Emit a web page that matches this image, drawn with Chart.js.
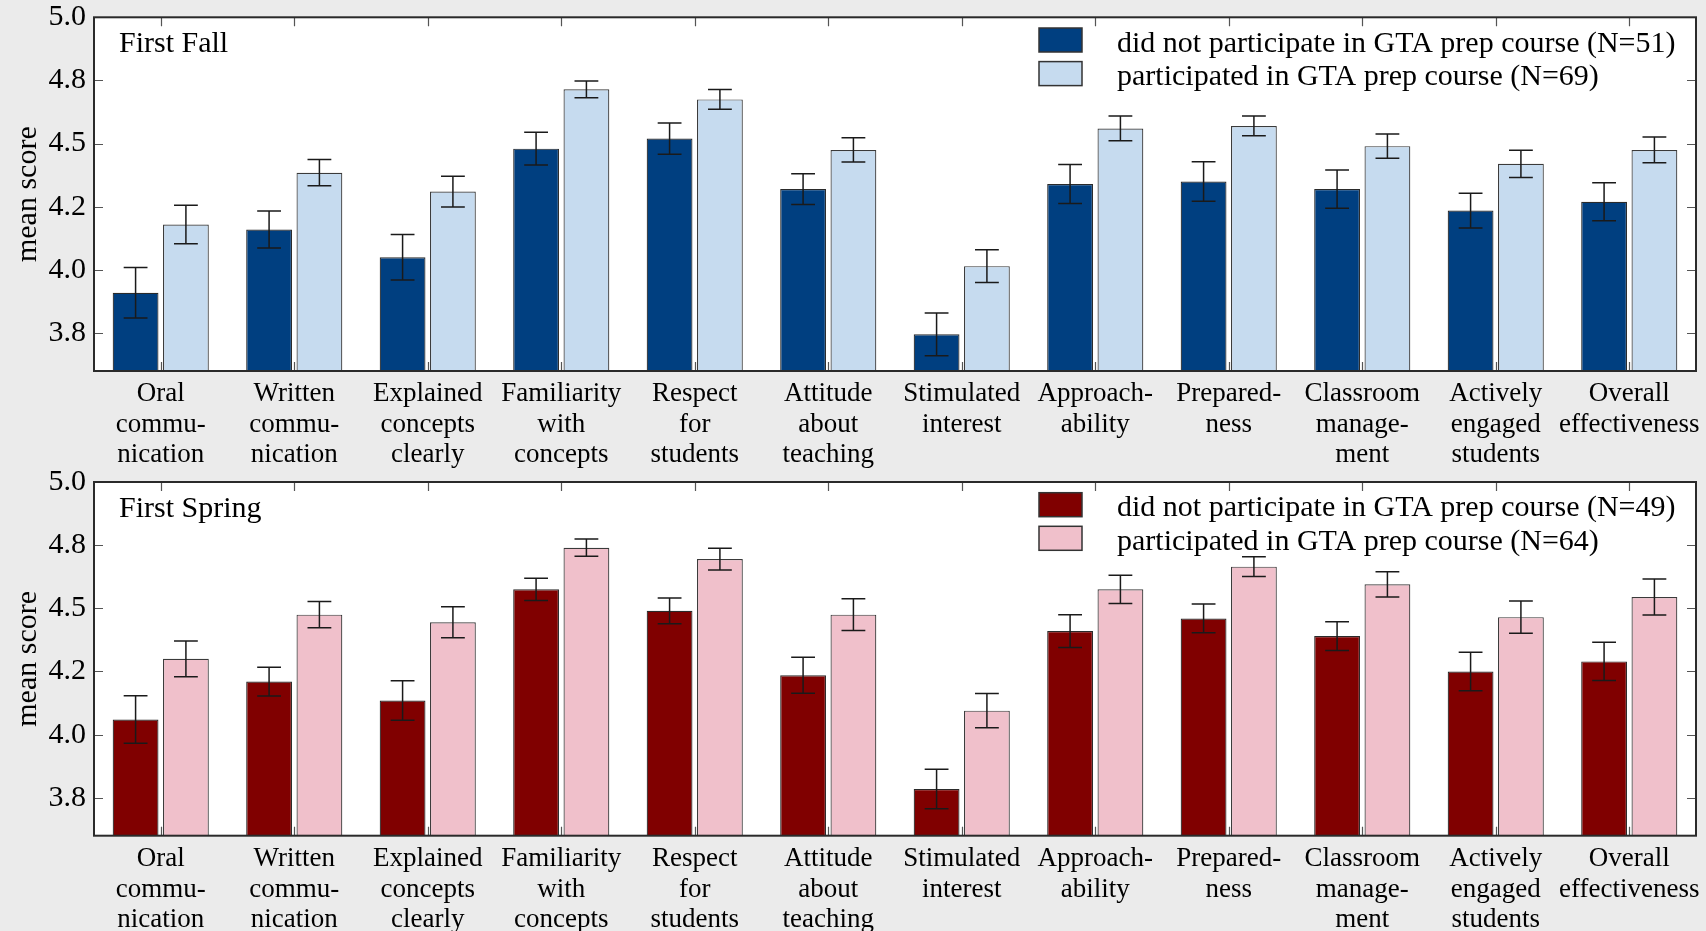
<!DOCTYPE html>
<html>
<head>
<meta charset="utf-8">
<title>Mean evaluation scores by GTA prep course participation</title>
<script src="https://cdn.jsdelivr.net/npm/chart.js@4.4.1/dist/chart.umd.min.js"></script>
<style>
  html, body { margin: 0; padding: 0; width: 1706px; height: 931px; overflow: hidden; background: #ebebeb; }
  canvas { position: absolute; left: 0; }
  #fall { top: 0; }
  #spring { top: 470px; }
</style>
</head>
<body>
<canvas id="fall" width="1706" height="475"></canvas>
<canvas id="spring" width="1706" height="520"></canvas>
<script>
// Evaluation categories (multi-line axis labels)
const categories = [
  ['Oral', 'commu-', 'nication'],
  ['Written', 'commu-', 'nication'],
  ['Explained', 'concepts', 'clearly'],
  ['Familiarity', 'with', 'concepts'],
  ['Respect', 'for', 'students'],
  ['Attitude', 'about', 'teaching'],
  ['Stimulated', 'interest'],
  ['Approach-', 'ability'],
  ['Prepared-', 'ness'],
  ['Classroom', 'manage-', 'ment'],
  ['Actively', 'engaged', 'students'],
  ['Overall', 'effectiveness']
];

// y-axis ticks and their printed labels
const yTickValues = [3.75, 4.0, 4.25, 4.5, 4.75, 5.0];
const yTickLabels = ['3.8', '4.0', '4.2', '4.5', '4.8', '5.0'];

// First Fall
const fallNoPrep    = [3.91, 4.16, 4.05, 4.48, 4.52, 4.32, 3.745, 4.34, 4.35, 4.32, 4.235, 4.27];
const fallNoPrepErr = [0.100, 0.073, 0.090, 0.065, 0.062, 0.061, 0.085, 0.077, 0.078, 0.076, 0.069, 0.075];
const fallPrep      = [4.18, 4.385, 4.31, 4.715, 4.675, 4.475, 4.015, 4.56, 4.57, 4.49, 4.42, 4.475];
const fallPrepErr   = [0.076, 0.052, 0.061, 0.033, 0.039, 0.048, 0.065, 0.049, 0.039, 0.048, 0.054, 0.051];

// First Spring
const springNoPrep    = [4.06, 4.21, 4.135, 4.575, 4.49, 4.235, 3.785, 4.41, 4.46, 4.39, 4.25, 4.29];
const springNoPrepErr = [0.094, 0.057, 0.078, 0.044, 0.051, 0.071, 0.078, 0.065, 0.057, 0.057, 0.076, 0.076];
const springPrep      = [4.30, 4.475, 4.445, 4.74, 4.695, 4.475, 4.095, 4.575, 4.665, 4.595, 4.465, 4.545];
const springPrepErr   = [0.071, 0.052, 0.061, 0.034, 0.043, 0.063, 0.068, 0.056, 0.039, 0.050, 0.064, 0.071];

const SERIF = "'Liberation Serif', 'Times New Roman', serif";
const PLOT_HEIGHT = 353.7;
Chart.defaults.font.family = SERIF;

// Draws the boxed plot frame, inward tick marks, error bars, panel label and legend.
const panelDecor = {
  id: 'panelDecor',
  beforeDraw(chart) {
    const {ctx, chartArea: a} = chart;
    ctx.save();
    ctx.fillStyle = '#ffffff';
    ctx.fillRect(a.left, a.top, a.right - a.left, a.bottom - a.top);
    ctx.restore();
  },
  beforeDatasetsDraw(chart) {
    const {ctx, chartArea: a, scales: {x, y}} = chart;
    const len = 9;
    ctx.save();
    ctx.strokeStyle = '#555';
    ctx.lineWidth = 1.2;
    ctx.beginPath();
    x.ticks.forEach((t, i) => {
      const px = Math.round(x.getPixelForTick(i)) + 0.5;
      ctx.moveTo(px, a.top); ctx.lineTo(px, a.top + len);
      ctx.moveTo(px, a.bottom); ctx.lineTo(px, a.bottom - len);
    });
    y.ticks.forEach(t => {
      const py = Math.round(y.getPixelForValue(t.value)) + 0.5;
      ctx.moveTo(a.left, py); ctx.lineTo(a.left + len, py);
      ctx.moveTo(a.right, py); ctx.lineTo(a.right - len, py);
    });
    ctx.stroke();
    ctx.restore();
  },
  afterDatasetsDraw(chart, args, opts) {
    const {ctx, chartArea: a, scales: {y}} = chart;
    ctx.save();
    // error bars
    chart.data.datasets.forEach((ds, di) => {
      const meta = chart.getDatasetMeta(di);
      ctx.strokeStyle = '#1a1a1a';
      ctx.lineWidth = 1.5;
      meta.data.forEach((bar, j) => {
        const v = ds.data[j], e = ds.errors[j];
        const top = y.getPixelForValue(v + e);
        const bot = y.getPixelForValue(v - e);
        const half = bar.width * 0.26;
        ctx.beginPath();
        ctx.moveTo(bar.x, top); ctx.lineTo(bar.x, bot);
        ctx.moveTo(bar.x - half, top); ctx.lineTo(bar.x + half, top);
        ctx.moveTo(bar.x - half, bot); ctx.lineTo(bar.x + half, bot);
        ctx.stroke();
      });
    });
    // frame
    ctx.strokeStyle = '#2a2a2a';
    ctx.lineWidth = 2;
    ctx.strokeRect(a.left, a.top, a.right - a.left, a.bottom - a.top);
    // panel label
    ctx.fillStyle = '#000';
    ctx.font = '30px ' + SERIF;
    ctx.textAlign = 'left';
    ctx.textBaseline = 'alphabetic';
    ctx.fillText(opts.label, a.left + 25, a.top + 35);
    // legend
    chart.data.datasets.forEach((ds, di) => {
      const bx = a.right - 657, by = a.top + 10.7 + di * 33.6;
      ctx.fillStyle = ds.backgroundColor;
      ctx.fillRect(bx, by, 43, 24);
      ctx.strokeStyle = '#333';
      ctx.lineWidth = 1.5;
      ctx.strokeRect(bx, by, 43, 24);
      ctx.fillStyle = '#000';
      ctx.textBaseline = 'alphabetic';
      ctx.fillText(ds.label, bx + 78, by + 23.5);
    });
    ctx.restore();
  }
};

function makePanel(canvasId, label, seriesA, errA, seriesB, errB, colA, colB, nA, nB, topPad, canvasH) {
  return new Chart(document.getElementById(canvasId), {
    type: 'bar',
    data: {
      labels: categories,
      datasets: [
        { label: 'did not participate in GTA prep course (N=' + nA + ')', data: seriesA, errors: errA,
          backgroundColor: colA, borderColor: '#2a2a2a', borderWidth: 1.2,
          categoryPercentage: 0.754, barPercentage: 0.91 },
        { label: 'participated in GTA prep course (N=' + nB + ')', data: seriesB, errors: errB,
          backgroundColor: colB, borderColor: '#3a3a3a', borderWidth: 1.2,
          categoryPercentage: 0.754, barPercentage: 0.91 }
      ]
    },
    options: {
      responsive: false,
      animation: false,
      devicePixelRatio: 1,
      layout: { padding: { top: topPad, right: 10, left: 0, bottom: 0 } },
      plugins: {
        legend: { display: false },
        tooltip: { enabled: false },
        panelDecor: { label: label }
      },
      scales: {
        x: {
          grid: { display: false, drawTicks: false },
          border: { display: false },
          ticks: {
            color: '#000', padding: 8, maxRotation: 0, minRotation: 0, autoSkip: false,
            font: { family: SERIF, size: 27, lineHeight: 1.13 }
          },
          afterFit(scale) {
            scale.height = canvasH - topPad - PLOT_HEIGHT;
            scale.paddingLeft = 0; scale.paddingRight = 0;
          }
        },
        y: {
          min: 3.6, max: 5.0,
          grid: { display: false, drawTicks: false },
          border: { display: false },
          afterBuildTicks(scale) { scale.ticks = yTickValues.map(v => ({ value: v })); },
          ticks: {
            color: '#000', padding: 8,
            font: { family: SERIF, size: 30 },
            callback: (v) => yTickLabels[yTickValues.indexOf(v)]
          },
          title: {
            display: true, text: 'mean score', color: '#000',
            font: { family: SERIF, size: 30, lineHeight: 1.2 },
            padding: { top: 10, bottom: 0 }
          },
          afterFit(scale) {
            scale.width = 94;
            scale.paddingTop = 0; scale.paddingBottom = 0;
          }
        }
      }
    },
    plugins: [panelDecor]
  });
}

makePanel('fall', 'First Fall', fallNoPrep, fallNoPrepErr, fallPrep, fallPrepErr,
          '#003f80', '#c6dbef', 51, 69, 17.3, 475);
makePanel('spring', 'First Spring', springNoPrep, springNoPrepErr, springPrep, springPrepErr,
          '#800000', '#f0c0cb', 49, 64, 12, 520);
</script>
</body>
</html>
